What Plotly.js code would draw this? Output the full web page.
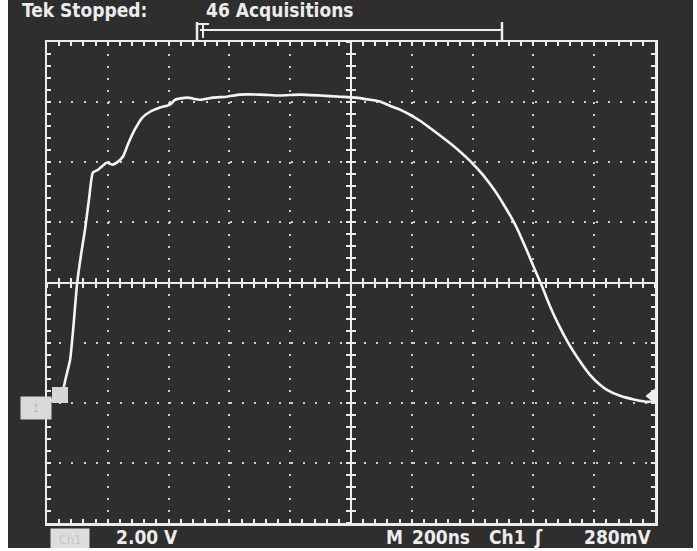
<!DOCTYPE html>
<html><head><meta charset="utf-8">
<script src="https://cdn.plot.ly/plotly-3.0.1.min.js"></script>
<style>
html,body{margin:0;padding:0;background:#fff;width:697px;height:551px;overflow:hidden}
#chart{position:absolute;left:8px;top:0;width:685px;height:548px}
</style></head>
<body><div id="chart"></div>
<script>
// Waveform: time (ns) from left edge of record, volts relative to Ch1 ground
const timeNs = [3, 30, 46, 53, 62, 76, 86, 99, 112, 125, 138, 151, 168, 197, 214, 234, 250, 266, 289, 313, 339, 372, 405, 421, 461, 503, 546, 592, 635, 701, 766, 832, 898, 964, 1013, 1063, 1095, 1128, 1161, 1194, 1227, 1260, 1293, 1326, 1359, 1391, 1434, 1474, 1507, 1533, 1549, 1582, 1605, 1628, 1655, 1681, 1714, 1743, 1786, 1819, 1842, 1885, 1934, 1977, 2000];
const volts  = [0.07, 0.10, 0.23, 0.43, 0.83, 1.43, 2.43, 3.96, 4.93, 5.76, 6.76, 7.66, 7.75, 7.99, 7.92, 8.02, 8.19, 8.59, 9.09, 9.48, 9.68, 9.82, 9.92, 10.08, 10.15, 10.08, 10.15, 10.18, 10.25, 10.25, 10.22, 10.25, 10.22, 10.18, 10.15, 10.08, 10.02, 9.88, 9.75, 9.58, 9.38, 9.14, 8.89, 8.63, 8.35, 8.05, 7.58, 7.04, 6.51, 6.06, 5.74, 4.98, 4.42, 3.88, 3.20, 2.63, 2.00, 1.53, 0.93, 0.60, 0.43, 0.23, 0.10, 0.03, 0.07];

// Scope settings / labels
const timeRange = [0, 2000];      // 10 div x 200 ns
const voltRange = [-4, 12];       // 8 div x 2 V, ground 2 div above bottom
const timePerDiv = 200, timeMinor = 40;
const voltPerDiv = 2, voltMinor = 0.4;
const statusLeft = 'Tek Stopped:';
const statusRight = '46 Acquisitions';
const chLabel = 'Ch1';
const scaleLabel = '2.00 V';
const timebaseParts = ['M', '200ns', 'Ch1', 'ʃ', '280mV'];

const FG = '#ececec';
const BG = '#2e2e2e';
const FONT = '"DejaVu Sans Condensed", "Liberation Sans Narrow", "DejaVu Sans", sans-serif';

// pixel -> paper helpers for screen decorations (plot area: x 47..655, y 42..523)
const PX = p => (p - 47) / 608;
const PY = p => (523 - p) / 481;

const tickStyle = (side) => ({ticks: side, ticklen: 4, tickwidth: 2, tickcolor: FG});

const layout = {
  width: 685, height: 548,
  margin: {l: 39, r: 38, t: 42, b: 25, pad: 0},
  paper_bgcolor: BG, plot_bgcolor: BG,
  showlegend: false,
  xaxis: Object.assign({range: timeRange, dtick: timePerDiv, tick0: 0, showticklabels: false, zeroline: false, fixedrange: true,
    showgrid: true, gridcolor: '#cdcdcd', gridwidth: 2, griddash: '2px,10px',
    showline: true, linecolor: FG, linewidth: 2.5, mirror: 'allticks',
    minor: Object.assign({dtick: timeMinor, showgrid: false}, tickStyle('inside'))}, tickStyle('inside')),
  yaxis: Object.assign({range: voltRange, dtick: voltPerDiv, tick0: 0, showticklabels: false, zeroline: false, fixedrange: true,
    showgrid: true, gridcolor: '#cdcdcd', gridwidth: 2, griddash: '2px,10.2px',
    showline: true, linecolor: FG, linewidth: 2.5, mirror: 'allticks',
    minor: Object.assign({dtick: voltMinor, showgrid: false}, tickStyle('inside'))}, tickStyle('inside')),
  xaxis2: Object.assign({range: timeRange, dtick: timePerDiv, tick0: 0, overlaying: 'x', anchor: 'free', position: 0.5,
    showticklabels: false, zeroline: false, showgrid: false, fixedrange: true, showline: true, linecolor: FG, linewidth: 2,
    minor: Object.assign({dtick: timeMinor, showgrid: false}, tickStyle('outside'))}, tickStyle('outside')),
  xaxis3: Object.assign({range: timeRange, dtick: timePerDiv, tick0: 0, overlaying: 'x', anchor: 'free', position: 0.5,
    showticklabels: false, zeroline: false, showgrid: false, fixedrange: true, showline: true, linecolor: FG, linewidth: 2,
    minor: Object.assign({dtick: timeMinor, showgrid: false}, tickStyle('inside'))}, tickStyle('inside')),
  yaxis2: Object.assign({range: voltRange, dtick: voltPerDiv, tick0: 0, overlaying: 'y', anchor: 'free', position: 0.5,
    showticklabels: false, zeroline: false, showgrid: false, fixedrange: true, showline: true, linecolor: FG, linewidth: 2,
    minor: Object.assign({dtick: voltMinor, showgrid: false}, tickStyle('outside'))}, tickStyle('outside')),
  yaxis3: Object.assign({range: voltRange, dtick: voltPerDiv, tick0: 0, overlaying: 'y', anchor: 'free', position: 0.5,
    showticklabels: false, zeroline: false, showgrid: false, fixedrange: true, showline: true, linecolor: FG, linewidth: 2,
    minor: Object.assign({dtick: voltMinor, showgrid: false}, tickStyle('inside'))}, tickStyle('inside')),
  shapes: [
    // record bracket at top
    {type: 'line', xref: 'paper', yref: 'paper', x0: PX(200), x1: PX(502), y0: PY(30), y1: PY(30), line: {color: FG, width: 2}},
    {type: 'line', xref: 'paper', yref: 'paper', x0: PX(502), x1: PX(502), y0: PY(22), y1: PY(40), line: {color: FG, width: 2.5}},
    {type: 'line', xref: 'paper', yref: 'paper', x0: PX(197), x1: PX(197), y0: PY(22), y1: PY(40), line: {color: FG, width: 2.5}},
    {type: 'line', xref: 'paper', yref: 'paper', x0: PX(197), x1: PX(209), y0: PY(24), y1: PY(24), line: {color: FG, width: 2}},
    {type: 'line', xref: 'paper', yref: 'paper', x0: PX(203), x1: PX(203), y0: PY(24), y1: PY(38), line: {color: FG, width: 2}},
    // trigger position box near ground
    {type: 'rect', xref: 'paper', yref: 'paper', x0: PX(52), x1: PX(68), y0: PY(403), y1: PY(387), fillcolor: '#d6d6d6', line: {width: 0}},
    // trigger level arrow at right edge
    {type: 'path', xref: 'paper', yref: 'paper', path: `M ${PX(655)} ${PY(389)} L ${PX(646)} ${PY(396)} L ${PX(655)} ${PY(403)} Z`, fillcolor: FG, line: {color: FG, width: 1}}
  ],
  annotations: [
    {xref: 'paper', yref: 'paper', x: PX(20), y: PY(10), xanchor: 'left', yanchor: 'middle', showarrow: false, text: '<b>' + statusLeft + '</b>', font: {family: FONT, size: 19, color: FG}},
    {xref: 'paper', yref: 'paper', x: PX(204), y: PY(10), xanchor: 'left', yanchor: 'middle', showarrow: false, text: '<b>' + statusRight + '</b>', font: {family: FONT, size: 19, color: FG}},
    {xref: 'paper', yref: 'paper', x: PX(70), y: PY(539), xanchor: 'center', yanchor: 'middle', showarrow: false, text: chLabel, bgcolor: '#dddddd', width: 36, height: 18, font: {family: FONT, size: 13, color: '#c4c4c4'}},
    {xref: 'paper', yref: 'paper', x: PX(114), y: PY(537), xanchor: 'left', yanchor: 'middle', showarrow: false, text: '<b>' + scaleLabel + '</b>', font: {family: FONT, size: 19, color: FG}},
    {xref: 'paper', yref: 'paper', x: PX(384), y: PY(537), xanchor: 'left', yanchor: 'middle', showarrow: false, text: '<b>' + timebaseParts[0] + '</b>', font: {family: FONT, size: 19, color: FG}},
    {xref: 'paper', yref: 'paper', x: PX(410), y: PY(537), xanchor: 'left', yanchor: 'middle', showarrow: false, text: '<b>' + timebaseParts[1] + '</b>', font: {family: FONT, size: 19, color: FG}},
    {xref: 'paper', yref: 'paper', x: PX(487), y: PY(537), xanchor: 'left', yanchor: 'middle', showarrow: false, text: '<b>' + timebaseParts[2] + '</b>', font: {family: FONT, size: 19, color: FG}},
    {xref: 'paper', yref: 'paper', x: PX(532), y: PY(537), xanchor: 'left', yanchor: 'middle', showarrow: false, text: '<b>' + timebaseParts[3] + '</b>', font: {family: FONT, size: 19, color: FG}},
    {xref: 'paper', yref: 'paper', x: PX(582), y: PY(537), xanchor: 'left', yanchor: 'middle', showarrow: false, text: '<b>' + timebaseParts[4] + '</b>', font: {family: FONT, size: 19, color: FG}},
    // ground marker
    {xref: 'paper', yref: 'paper', x: PX(36), y: PY(408), xanchor: 'center', yanchor: 'middle', showarrow: false, text: '1', bgcolor: '#dadada', width: 28, height: 20, font: {family: FONT, size: 11, color: '#b8b8b8'}}
  ]
};

const traces = [
  {type: 'scatter', mode: 'lines', x: [], y: [], xaxis: 'x2', yaxis: 'y2', hoverinfo: 'skip'},
  {type: 'scatter', mode: 'lines', x: [], y: [], xaxis: 'x3', yaxis: 'y3', hoverinfo: 'skip'},
  {type: 'scatter', mode: 'lines', x: timeNs, y: volts, xaxis: 'x', yaxis: 'y',
   line: {color: '#f5f5f5', width: 2.6, shape: 'spline', smoothing: 0.5}, hoverinfo: 'skip'}
];

Plotly.newPlot('chart', traces, layout, {staticPlot: true, displayModeBar: false});
</script>
</body></html>
